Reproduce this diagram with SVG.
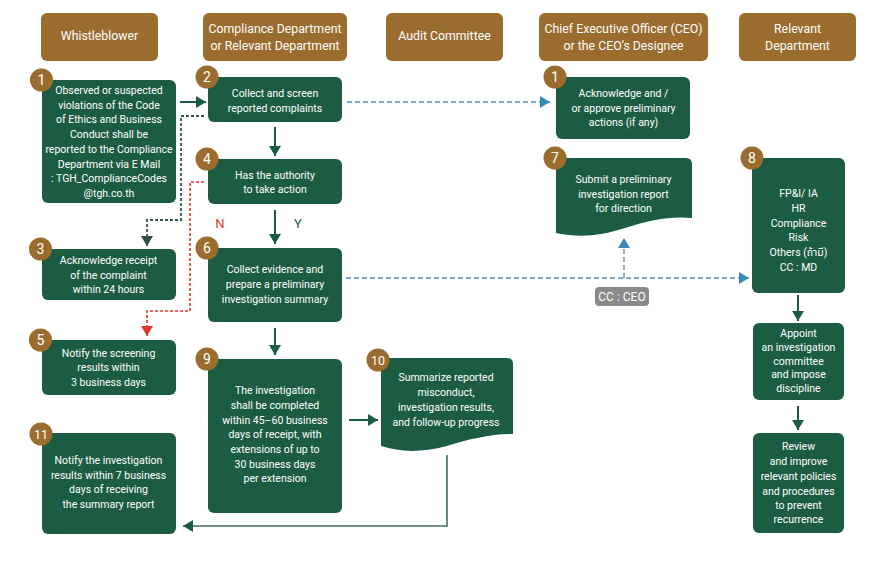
<svg xmlns="http://www.w3.org/2000/svg" width="882" height="561" viewBox="0 0 882 561">
<defs>
<style>
.hdr{fill:#9a6c2e}
.box{fill:#1b5c42}
.num{fill:#9a6c2e}
.ht{font-family:Roboto,"Noto Sans",sans-serif;font-size:12.3px;fill:#ffffff;text-anchor:middle}
.t{font-family:Roboto,"Noto Sans","Noto Sans Thai",sans-serif;font-size:10.5px;fill:#ffffff;text-anchor:middle}
.nt{font-family:Roboto,"Noto Sans",sans-serif;font-size:14px;fill:#ffffff;text-anchor:middle}
.solid{fill:none;stroke:#1b5c42;stroke-width:2}
.solidl{fill:none;stroke:#3f7059;stroke-width:1.6}
.gdash{fill:none;stroke:#3d554a;stroke-width:1.8;stroke-dasharray:3 2}
.rdash{fill:none;stroke:#e2372c;stroke-width:1.6;stroke-dasharray:3 2}
.bdash{fill:none;stroke:#4a8db9;stroke-width:1.4;stroke-dasharray:5 3}
</style>
<marker id="ag" markerUnits="userSpaceOnUse" markerWidth="10" markerHeight="12" refX="10" refY="6" orient="auto"><path d="M0,0 L10,6 L0,12 z" fill="#1b5c42"/></marker>
<marker id="agl" markerUnits="userSpaceOnUse" markerWidth="10" markerHeight="12" refX="10" refY="6" orient="auto"><path d="M0,0 L10,6 L0,12 z" fill="#1b5c42"/></marker>
<marker id="ak" markerUnits="userSpaceOnUse" markerWidth="10" markerHeight="12" refX="10" refY="6" orient="auto"><path d="M0,0 L10,6 L0,12 z" fill="#2f4c40"/></marker>
<marker id="ar" markerUnits="userSpaceOnUse" markerWidth="10" markerHeight="12" refX="10" refY="6" orient="auto"><path d="M0,0 L10,6 L0,12 z" fill="#e2372c"/></marker>
<marker id="ab" markerUnits="userSpaceOnUse" markerWidth="10" markerHeight="12" refX="10" refY="6" orient="auto"><path d="M0,0 L10,6 L0,12 z" fill="#3a8ab8"/></marker>
</defs>
<rect width="882" height="561" fill="#ffffff"/>

<g id="headers">
<g id="h-whistleblower"><rect class="hdr" x="41" y="13" width="117" height="48" rx="6"/><text class="ht" x="99.5" y="40">Whistleblower</text></g>
<g id="h-compliance"><rect class="hdr" x="203" y="13" width="144" height="48" rx="6"/><text class="ht" x="275" y="32.5">Compliance Department</text><text class="ht" x="275" y="49.5">or Relevant Department</text></g>
<g id="h-audit"><rect class="hdr" x="386" y="13" width="117" height="48" rx="6"/><text class="ht" x="444.5" y="40">Audit Committee</text></g>
<g id="h-ceo"><rect class="hdr" x="539" y="13" width="169" height="48" rx="6"/><text class="ht" x="623.5" y="32.5">Chief Executive Officer (CEO)</text><text class="ht" x="623.5" y="49.5">or the CEO’s Designee</text></g>
<g id="h-relevant"><rect class="hdr" x="739" y="13" width="117" height="48" rx="6"/><text class="ht" x="797.5" y="32.5">Relevant</text><text class="ht" x="797.5" y="49.5">Department</text></g>
</g>

<g id="connectors">
<path class="solid" d="M180,102 H206" marker-end="url(#ag)"/>
<path class="solid" d="M275,127 V156" marker-end="url(#ag)"/>
<path class="solid" d="M275,210 V244" marker-end="url(#ag)"/>
<path class="solid" d="M275,328 V355" marker-end="url(#ag)"/>
<path class="solid" d="M349,420 H378" marker-end="url(#ag)"/>
<path class="solidl" d="M447,455 V526 H183" marker-end="url(#agl)"/>
<path class="solid" d="M798,295 V321" marker-end="url(#ag)"/>
<path class="solid" d="M798,406 V430" marker-end="url(#ag)"/>
<path class="gdash" d="M204,116 H181 V220 H147 V246" marker-end="url(#ak)"/>
<path class="rdash" d="M204,182 H190 V311 H147 V336" marker-end="url(#ar)"/>
<path class="bdash" d="M347,102 H550" marker-end="url(#ab)"/>
<path class="bdash" d="M346,278 H749" marker-end="url(#ab)"/>
<path class="bdash" d="M624,278 V238" marker-end="url(#ab)"/>
<text x="220" y="227.5" style="font-family:Roboto,'Noto Sans',sans-serif;font-size:13px;fill:#e2372c" text-anchor="middle">N</text>
<text x="298" y="227.5" style="font-family:Roboto,'Noto Sans',sans-serif;font-size:13px;fill:#1b5c42" text-anchor="middle">Y</text>
<g id="cc-ceo"><rect x="595" y="287" width="54" height="19" rx="4" fill="#8a8a8a"/><text x="622" y="301" style="font-family:Roboto,'Noto Sans',sans-serif;font-size:12px;fill:#ffffff" text-anchor="middle">CC : CEO</text></g>
</g>

<g id="n1">
<rect class="box" x="42" y="80" width="134" height="123" rx="6"/>
<text class="t" x="109"><tspan x="109" y="94">Observed or suspected</tspan><tspan x="109" y="108.7">violations of the Code</tspan><tspan x="109" y="123.4">of Ethics and Business</tspan><tspan x="109" y="138.1">Conduct shall be</tspan><tspan x="109" y="152.8">reported to the Compliance</tspan><tspan x="109" y="167.5">Department via E Mail</tspan><tspan x="109" y="182.2">: TGH_ComplianceCodes</tspan><tspan x="109" y="196.9">@tgh.co.th</tspan></text>
<circle class="num" cx="41.5" cy="80" r="11.5"/><text class="nt" x="41.5" y="85">1</text>
</g>

<g id="n2">
<rect class="box" x="208" y="77" width="134" height="45" rx="6"/>
<text class="t"><tspan x="275" y="97.3">Collect and screen</tspan><tspan x="275" y="111.7">reported complaints</tspan></text>
<circle class="num" cx="207" cy="77" r="11.5"/><text class="nt" x="207" y="82">2</text>
</g>

<g id="n4">
<rect class="box" x="208" y="159" width="134" height="45" rx="6"/>
<text class="t"><tspan x="275" y="179">Has the authority</tspan><tspan x="275" y="193.3">to take action</tspan></text>
<circle class="num" cx="207" cy="159" r="11.5"/><text class="nt" x="207" y="164">4</text>
</g>

<g id="n3">
<rect class="box" x="42" y="249" width="134" height="51" rx="6"/>
<text class="t"><tspan x="108.5" y="264">Acknowledge receipt</tspan><tspan x="108.5" y="279">of the complaint</tspan><tspan x="108.5" y="293.3">within 24 hours</tspan></text>
<circle class="num" cx="40.5" cy="249" r="11.5"/><text class="nt" x="40.5" y="254">3</text>
</g>

<g id="n6">
<rect class="box" x="208" y="248" width="134" height="74" rx="6"/>
<text class="t"><tspan x="275" y="273.3">Collect evidence and</tspan><tspan x="275" y="288.3">prepare a preliminary</tspan><tspan x="275" y="303">investigation summary</tspan></text>
<circle class="num" cx="207" cy="248" r="11.5"/><text class="nt" x="207" y="253">6</text>
</g>

<g id="n5">
<rect class="box" x="42" y="340" width="134" height="55" rx="6"/>
<text class="t"><tspan x="108.5" y="356.7">Notify the screening</tspan><tspan x="108.5" y="371.3">results within</tspan><tspan x="108.5" y="385.7">3 business days</tspan></text>
<circle class="num" cx="40.5" cy="340" r="11.5"/><text class="nt" x="40.5" y="345">5</text>
</g>

<g id="n9">
<rect class="box" x="208" y="359" width="134" height="154" rx="6"/>
<text class="t"><tspan x="275" y="394">The investigation</tspan><tspan x="275" y="409">shall be completed</tspan><tspan x="275" y="424">within 45–60 business</tspan><tspan x="275" y="438.3">days of receipt, with</tspan><tspan x="275" y="453">extensions of up to</tspan><tspan x="275" y="468">30 business days</tspan><tspan x="275" y="482.3">per extension</tspan></text>
<circle class="num" cx="207" cy="359" r="11.5"/><text class="nt" x="207" y="364">9</text>
</g>

<g id="n10">
<path class="box" d="M387,358 H507 Q513,358 513,364 V434 C490,434 470,439 447,446 C420,453 400,452 381,446 V364 Q381,358 387,358 Z"/>
<text class="t"><tspan x="446" y="380.7">Summarize reported</tspan><tspan x="446" y="395.7">misconduct,</tspan><tspan x="446" y="410.7">investigation results,</tspan><tspan x="446" y="425.7">and follow-up progress</tspan></text>
<circle class="num" cx="378" cy="360" r="11.5"/><text class="nt" x="378" y="365" style="font-size:12.5px">10</text>
</g>

<g id="n11">
<rect class="box" x="42" y="433" width="134" height="101" rx="6"/>
<text class="t"><tspan x="108.5" y="464">Notify the investigation</tspan><tspan x="108.5" y="479">results within 7 business</tspan><tspan x="108.5" y="493.3">days of receiving</tspan><tspan x="108.5" y="508.3">the summary report</tspan></text>
<circle class="num" cx="41" cy="434" r="11.5"/><text class="nt" x="41" y="439" style="font-size:12.5px">11</text>
</g>

<g id="ceo1">
<rect class="box" x="556" y="77" width="134" height="62" rx="6"/>
<text class="t"><tspan x="623.5" y="97.3">Acknowledge and /</tspan><tspan x="623.5" y="111.7">or approve preliminary</tspan><tspan x="623.5" y="126.3">actions (if any)</tspan></text>
<circle class="num" cx="555" cy="77" r="11.5"/><text class="nt" x="555" y="82">1</text>
</g>

<g id="n7">
<path class="box" d="M562,158 H686 Q692,158 692,164 V218 C670,216 650,220 625,228 C600,236 580,238 556,233 V164 Q556,158 562,158 Z"/>
<text class="t"><tspan x="623.5" y="183.3">Submit a preliminary</tspan><tspan x="623.5" y="198">investigation report</tspan><tspan x="623.5" y="212.3">for direction</tspan></text>
<circle class="num" cx="555" cy="158" r="11.5"/><text class="nt" x="555" y="163">7</text>
</g>

<g id="n8">
<rect class="box" x="752" y="158" width="93" height="135" rx="6"/>
<text class="t"><tspan x="798.5" y="197.3">FP&amp;I/ IA</tspan><tspan x="798.5" y="212.3">HR</tspan><tspan x="798.5" y="226.7">Compliance</tspan><tspan x="798.5" y="241.3">Risk</tspan><tspan x="798.5" y="255.7">Others (ถ้ามี)</tspan><tspan x="798.5" y="270.7">CC : MD</tspan></text>
<circle class="num" cx="752" cy="158" r="11.5"/><text class="nt" x="752" y="163">8</text>
</g>

<g id="appoint">
<rect class="box" x="753" y="323" width="91" height="77" rx="6"/>
<text class="t"><tspan x="798.5" y="337.3">Appoint</tspan><tspan x="798.5" y="350.7">an investigation</tspan><tspan x="798.5" y="365">committee</tspan><tspan x="798.5" y="378.3">and impose</tspan><tspan x="798.5" y="392.3">discipline</tspan></text>
</g>

<g id="review">
<rect class="box" x="753" y="433" width="91" height="100" rx="6"/>
<text class="t"><tspan x="798.5" y="449.7">Review</tspan><tspan x="798.5" y="465">and improve</tspan><tspan x="798.5" y="479.7">relevant policies</tspan><tspan x="798.5" y="494.7">and procedures</tspan><tspan x="798.5" y="509">to prevent</tspan><tspan x="798.5" y="523.3">recurrence</tspan></text>
</g>
</svg>
